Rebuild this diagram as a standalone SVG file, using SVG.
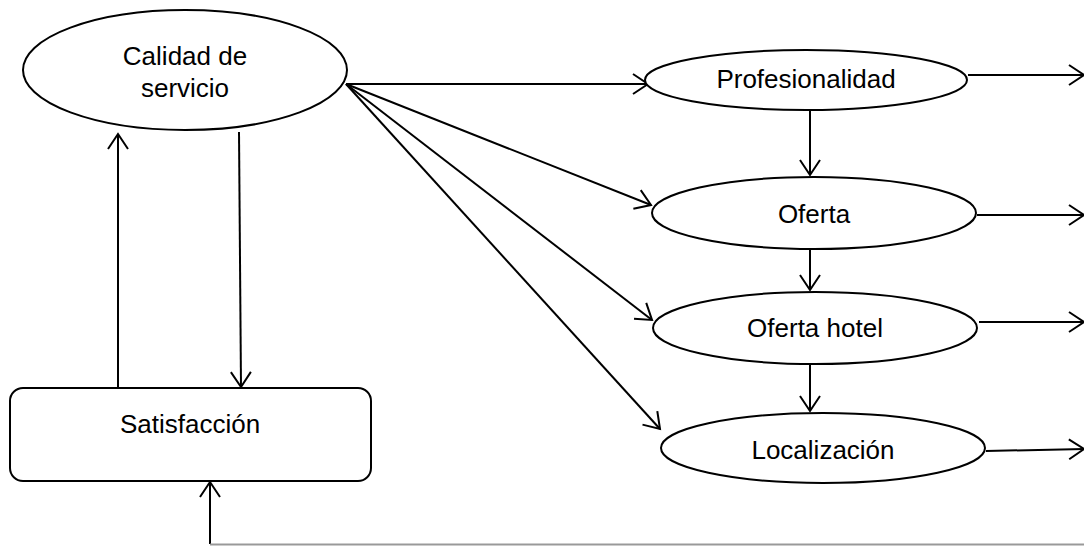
<svg xmlns="http://www.w3.org/2000/svg" width="1084" height="546" viewBox="0 0 1084 546">
<defs>
<marker id="arr" markerUnits="userSpaceOnUse" markerWidth="20" markerHeight="24" viewBox="-16 -12 20 24" refX="0" refY="0" orient="auto">
<path d="M-15,-10 L0,0 L-15,10" fill="none" stroke="#000" stroke-width="2"/>
</marker>
</defs>
<style>
.shape{fill:#fff;stroke:#000;stroke-width:2}
.lbl{font-family:"Liberation Sans",Arial,sans-serif;font-size:26px;fill:#000;text-anchor:middle}
.con{fill:none;stroke:#000;stroke-width:2;marker-end:url(#arr)}
</style>
<rect width="1084" height="546" fill="#fff"/>
<g id="connectors">
<line class="con" x1="346" y1="84" x2="648" y2="84"/>
<line class="con" x1="346" y1="84" x2="651" y2="205"/>
<line class="con" x1="346" y1="84" x2="652" y2="320"/>
<line class="con" x1="346" y1="84" x2="660" y2="429"/>
<line class="con" x1="810" y1="110" x2="810" y2="175"/>
<line class="con" x1="810" y1="249" x2="810" y2="290"/>
<line class="con" x1="810" y1="365" x2="810" y2="411"/>
<line class="con" x1="968" y1="75" x2="1084" y2="75"/>
<line class="con" x1="977" y1="215" x2="1084" y2="215"/>
<line class="con" x1="979" y1="322" x2="1084" y2="322"/>
<line class="con" x1="986" y1="451" x2="1084" y2="449"/>
<line class="con" x1="118" y1="388" x2="118" y2="134"/>
<line class="con" x1="239" y1="132" x2="241" y2="387"/>
<line class="con" x1="210" y1="544" x2="210" y2="482"/>
<line x1="210" y1="544.5" x2="1084" y2="544.5" stroke="#999" stroke-width="2"/>
</g>
<g id="calidad">
<ellipse class="shape" cx="185" cy="70" rx="162" ry="60"/>
<text class="lbl" x="185" y="65">Calidad de</text>
<text class="lbl" x="185" y="97">servicio</text>
</g>
<g id="profesionalidad">
<ellipse class="shape" cx="806" cy="80" rx="161" ry="30"/>
<text class="lbl" x="806" y="88">Profesionalidad</text>
</g>
<g id="oferta">
<ellipse class="shape" cx="814" cy="213" rx="162" ry="36"/>
<text class="lbl" x="814" y="223">Oferta</text>
</g>
<g id="oferta-hotel">
<ellipse class="shape" cx="815" cy="328" rx="162" ry="36"/>
<text class="lbl" x="815" y="337">Oferta hotel</text>
</g>
<g id="localizacion">
<ellipse class="shape" cx="823" cy="448" rx="162" ry="35"/>
<text class="lbl" x="823" y="459">Localización</text>
</g>
<g id="satisfaccion">
<rect class="shape" x="10" y="388" width="361" height="93" rx="13" ry="13"/>
<text class="lbl" x="190" y="433">Satisfacción</text>
</g>
</svg>
